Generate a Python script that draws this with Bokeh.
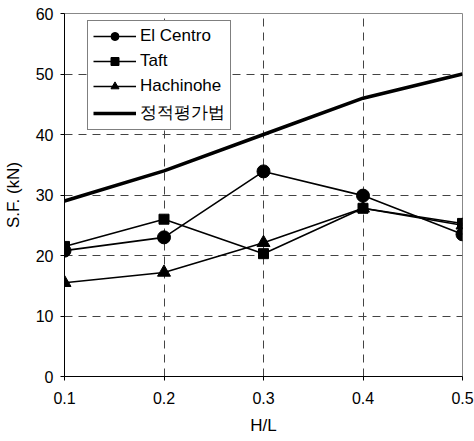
from bokeh.plotting import figure
from bokeh.models import Range1d, FixedTicker, Legend, LegendItem
from bokeh.embed import file_html
from bokeh.resources import INLINE

# H/L ratios and shear force (kN) per record
hl = [0.1, 0.2, 0.3, 0.4, 0.5]
el_centro = [20.8, 23.0, 33.9, 29.9, 23.5]
taft = [21.5, 26.0, 20.3, 27.8, 25.3]
hachinohe = [15.5, 17.2, 22.1, 27.8, 25.0]
static_eval = [29.0, 34.0, 40.0, 46.0, 50.0]

x_ticks = [0.1, 0.2, 0.3, 0.4, 0.5]
y_ticks = [0, 10, 20, 30, 40, 50, 60]

FONT = "Liberation Sans"

p = figure(width=474, height=441, output_backend="svg", toolbar_location=None,
           x_range=Range1d(0.1, 0.5), y_range=Range1d(0, 60))
p.min_border_left = 63
p.min_border_right = 12
p.min_border_top = 13
p.min_border_bottom = 65
p.background_fill_color = "white"
p.border_fill_color = "white"
p.outline_line_color = "#888888"
p.outline_line_width = 1

for ax in (p.xaxis[0], p.yaxis[0]):
    ax.axis_line_color = "black"
    ax.axis_line_width = 1
    ax.major_tick_in = 0
    ax.major_tick_out = 4
    ax.minor_tick_line_color = None
    ax.major_label_text_font = FONT
    ax.major_label_text_font_size = "16px"
    ax.major_label_text_color = "black"
    ax.axis_label_text_font = FONT
    ax.axis_label_text_font_size = "17px"
    ax.axis_label_text_font_style = "normal"
    ax.axis_label_text_color = "black"

p.xaxis.ticker = FixedTicker(ticks=x_ticks)
p.yaxis.ticker = FixedTicker(ticks=y_ticks)
p.xaxis.major_label_overrides = {t: f"{t:.1f}" for t in x_ticks}
p.xaxis.major_label_standoff = 11
p.yaxis.major_label_standoff = 7
p.xaxis.axis_label = "H/L"
p.yaxis.axis_label = "S.F. (kN)"
p.xaxis.axis_label_standoff = 9
p.yaxis.axis_label_standoff = 10

for g in (p.xgrid[0], p.ygrid[0]):
    g.grid_line_color = "#444444"
    g.grid_line_dash = "8 6"
    g.grid_line_width = 1

r_el_l = p.line(hl, el_centro, line_color="black", line_width=1.6)
r_el_m = p.scatter(hl, el_centro, marker="circle", size=13, fill_color="black", line_color="black")
r_tf_l = p.line(hl, taft, line_color="black", line_width=1.6)
r_tf_m = p.scatter(hl, taft, marker="square", size=10, fill_color="black", line_color="black")
r_ha_l = p.line(hl, hachinohe, line_color="black", line_width=1.6)
r_ha_m = p.scatter(hl, hachinohe, marker="triangle", size=13, fill_color="black", line_color="black")
r_st = p.line(hl, static_eval, line_color="black", line_width=3.5)

legend = Legend(items=[
    LegendItem(label="El Centro", renderers=[r_el_l, r_el_m]),
    LegendItem(label="Taft", renderers=[r_tf_l, r_tf_m]),
    LegendItem(label="Hachinohe", renderers=[r_ha_l, r_ha_m]),
    LegendItem(label="정적평가법", renderers=[r_st]),
], location=(23, 246))
legend.border_line_color = "black"
legend.border_line_width = 1
legend.background_fill_color = "white"
legend.background_fill_alpha = 1
legend.label_text_font = FONT
legend.label_text_font_size = "17px"
legend.label_text_color = "black"
legend.glyph_width = 43
legend.glyph_height = 20
legend.label_height = 20
legend.label_standoff = 4
legend.spacing = 5
legend.padding = 5
legend.margin = 0
p.add_layout(legend, "center")

open("out.html", "w").write(file_html(p, INLINE))
